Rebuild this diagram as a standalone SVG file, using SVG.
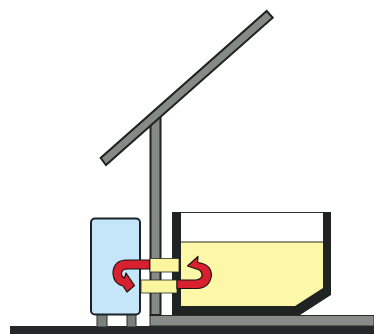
<svg xmlns="http://www.w3.org/2000/svg" width="374" height="334" viewBox="0 0 374 334">
<style>
.steel{fill:#868a86;stroke:#1f2220;stroke-width:2}
.wall{fill:#1f2422}
.pipe{fill:#fbf5a0;stroke:#2a2c22;stroke-width:.8}
.flow{fill:#d8202e;stroke:#1a1414;stroke-width:1.2;stroke-linejoin:round}
</style>
<rect width="374" height="334" fill="#fff"/>
<g id="ground">
<rect x="10" y="326" width="364" height="8" fill="#24282a"/>
<rect x="150" y="315.500" width="224" height="10.500" fill="#878c88" stroke="#2a2d2b" stroke-width="1"/>
</g>
<g id="post"><rect x="150.500" y="116" width="10" height="199" class="steel"/></g>
<g id="collector"><polygon points="266.700,11 272.700,17.700 106,165 100.700,158" class="steel"/></g>
<g id="store-tank">
<rect x="181" y="212.500" width="142" height="30" fill="#fff"/>
<polygon points="181,242 323,242 323,288 295,306 181,306" fill="#fdf7a8"/>
<path d="M181 212.500H323M181 242H323" stroke="#2a2d28" fill="none" stroke-width="1"/>
<polygon class="wall" points="172,212 181,212 181,306 295,306 323,288 323,212 331,212 331,295 300,315 172,315"/>
</g>
<g id="boiler">
<rect x="97" y="313" width="10" height="14" fill="#7b807c" stroke="#2a2d2b"/>
<rect x="127" y="313" width="9" height="14" fill="#7b807c" stroke="#2a2d2b"/>
<rect x="91" y="218.500" width="49" height="96" rx="4" fill="#c4e6f8" stroke="#1c2226" stroke-width="2"/>
</g>
<g id="pipes">
<rect x="150" y="258.500" width="29" height="13.500" class="pipe"/>
<rect x="141" y="280" width="36" height="13" class="pipe"/>
</g>
<g id="connectors">
<path class="flow" d="M149.500 260H127Q113 260 113 274Q114 284 123 286L127 292L134.500 285.500L126 273L124.500 278Q121 276 121.500 273Q122 269 128 269H149.500Z"/>
<path class="flow" d="M177 280H196Q202.500 279 202 274.500Q201.500 271.500 199.500 270L187.500 266L198 256.500L197.500 262.500Q211 264 211.500 275Q210 288 197 288.500H177Z"/>
</g>
</svg>
